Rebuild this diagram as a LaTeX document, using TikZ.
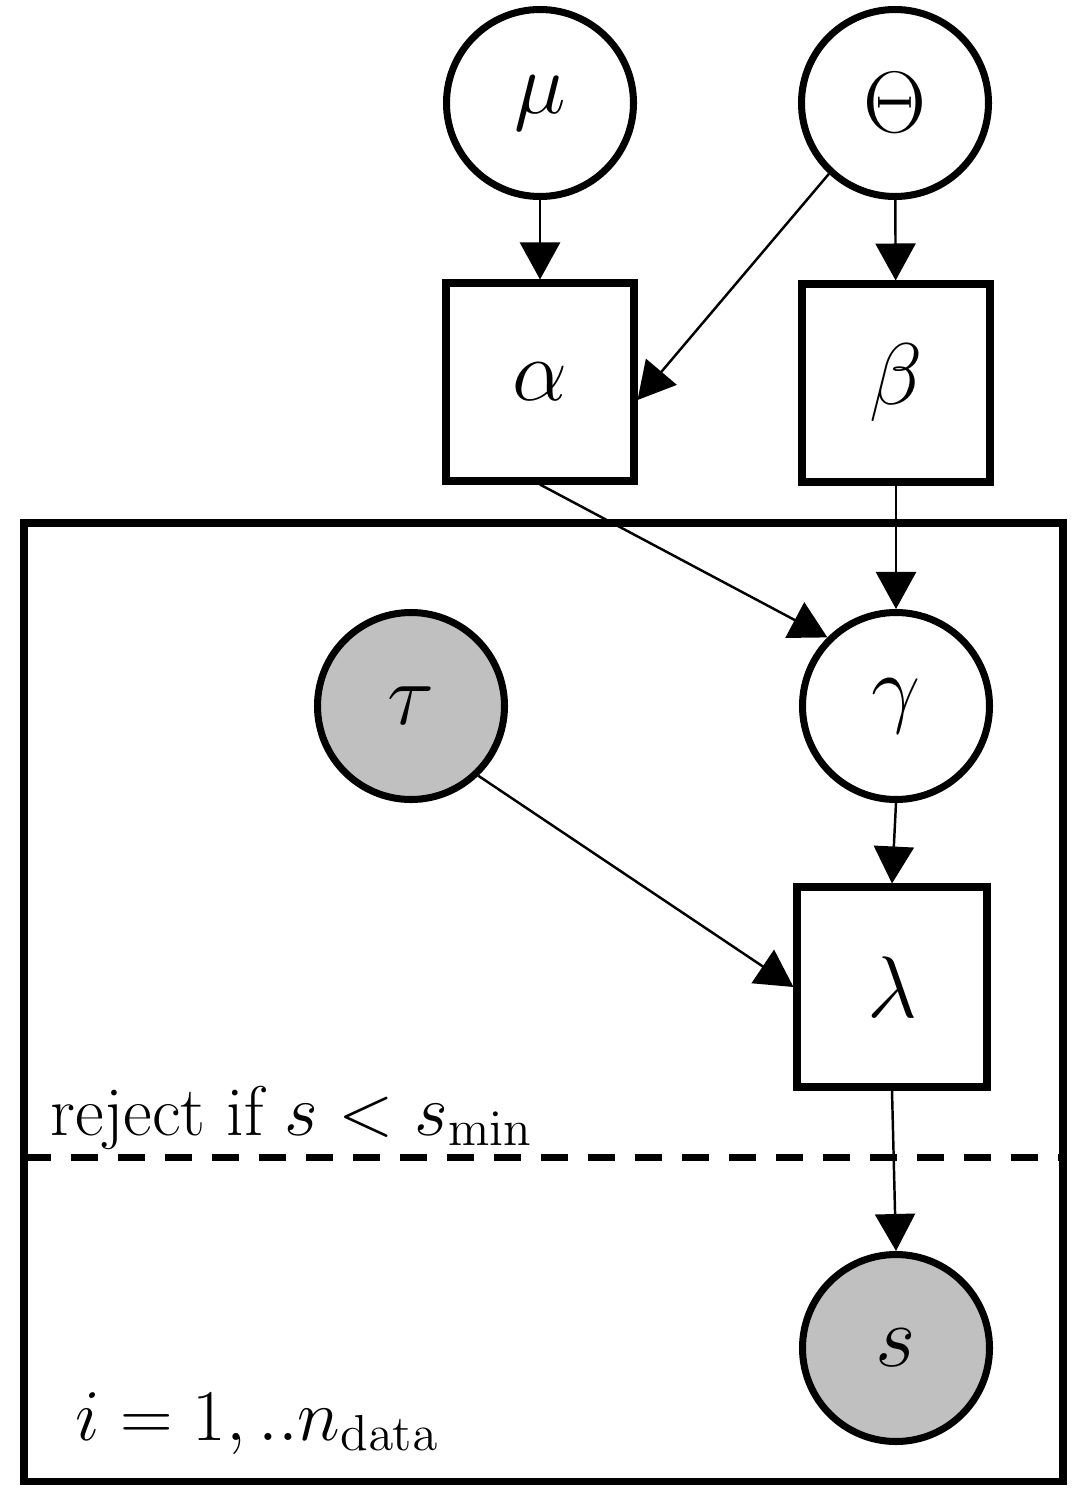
\documentclass[tikz,border=0pt]{standalone}
\usepackage{amsmath}
\usetikzlibrary{arrows.meta}
\definecolor{obsgray}{RGB}{192,192,192}

\begin{document}
\begin{tikzpicture}[latent/.style={draw,circle,line width=2pt,minimum size=1.87cm,inner sep=0pt,font=\fontsize{24}{28}\selectfont},
	obs/.style={latent,fill=obsgray},
	param/.style={draw,rectangle,line width=2pt,minimum width=1.88cm,minimum height=1.98cm,inner sep=0pt,font=\fontsize{24}{28}\selectfont},
	edge/.style={-{Triangle[length=3.7mm,width=4mm]},line width=0.7pt},
	platetext/.style={anchor=base west,inner sep=0pt,font=\fontsize{20}{24}\selectfont}]
	\useasboundingbox (0,0) rectangle (10.72,-14.89);
	
	% hyperparameters
	\node[latent] (mu) at (5.40,-1.03) {$\mu$};
	\node[latent] (theta) at (8.95,-1.03) {$\Theta$};
	\node[param] (alpha) at (5.40,-3.82) {$\alpha$};
	\node[param] (beta) at (8.96,-3.83) {$\beta$};
	
	% plate
	\draw[line width=2pt] (0.24,-5.23) rectangle (10.63,-14.81);
	\draw[line width=2pt,dash pattern=on 2.7mm off 2.0mm] (0.24,-11.57)--(10.63,-11.57);
	\node[platetext] (reject) at (0.50,-11.35) {reject if $s<s_{\min}$};
	\node[platetext] (index) at (0.75,-14.40) {$i=1,..n_{\mathrm{data}}$};
	
	\node[obs] (tau) at (4.11,-7.06) {$\tau$};
	\node[latent] (gamma) at (8.96,-7.06) {$\gamma$};
	\node[param,minimum width=1.90cm,minimum height=2.00cm] (lambda) at (8.92,-9.87) {$\lambda$};
	\node[obs] (s) at (8.96,-13.48) {$s$};
	
	% edges
	\draw[edge] (mu)--(alpha);
	\draw[edge] (theta)--(beta);
	\draw[edge] (theta.227)--([yshift=-1.8mm]alpha.east);
	\draw[edge] (alpha.south)--(gamma.135);
	\draw[edge] (beta)--(gamma);
	\draw[edge] (tau.-46)--(lambda.west);
	\draw[edge] (gamma.south)--(lambda.north);
	\draw[edge] (lambda.south)--(s.north);
\end{tikzpicture}
\end{document}
